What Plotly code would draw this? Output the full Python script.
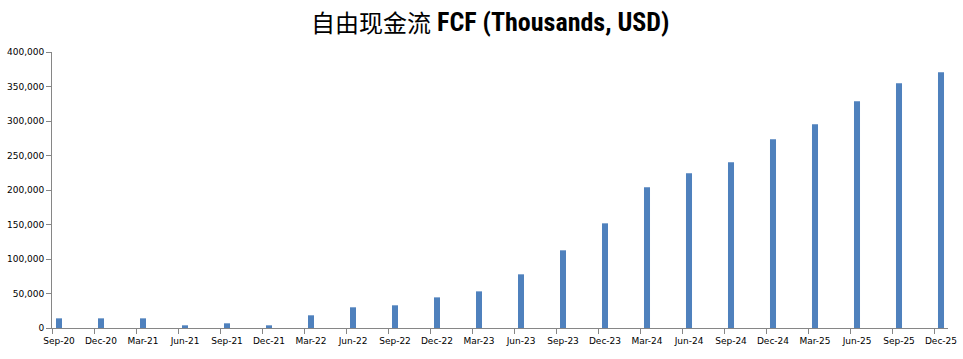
import plotly.graph_objects as go

categories = ["Sep-20", "Dec-20", "Mar-21", "Jun-21", "Sep-21", "Dec-21", "Mar-22", "Jun-22",
              "Sep-22", "Dec-22", "Mar-23", "Jun-23", "Sep-23", "Dec-23", "Mar-24", "Jun-24",
              "Sep-24", "Dec-24", "Mar-25", "Jun-25", "Sep-25", "Dec-25"]
fcf = [14000, 14000, 14000, 3900, 6800, 3900, 18400, 30000,
       32900, 44400, 53100, 77800, 112600, 151700, 203900, 224200,
       240100, 273400, 295200, 328500, 354600, 370500]
y_ticks = [0, 50000, 100000, 150000, 200000, 250000, 300000, 350000, 400000]
title_cn = "自由现金流"
title_en = "FCF (Thousands, USD)"

# quarterly points on a monthly date axis (Excel-style)
month_pos = [3 * i for i in range(len(categories))]

fig = go.Figure(go.Bar(
    x=month_pos, y=fcf, width=0.43,
    marker=dict(color="#4F81BD", line=dict(width=0)),
))

W, H = 963, 359
ML, MR, MT, MB = 52, 15, 52, 31
pw, ph = W - ML - MR, H - MT - MB


def px_x(x):
    return (x - ML) / pw


def px_y(y):
    return (H - MB - y) / ph


fig.update_layout(
    width=W, height=H,
    margin=dict(l=ML, r=MR, t=MT, b=MB),
    paper_bgcolor="white", plot_bgcolor="white",
    showlegend=False,
    font=dict(family="DejaVu Sans", size=9, color="black"),
    annotations=[
        dict(text=title_cn, xref="paper", yref="paper", x=px_x(433), y=px_y(21.5),
             xanchor="right", yanchor="middle", showarrow=False,
             font=dict(family="Noto Sans CJK SC", size=24, color="black")),
        dict(text=f"<b>{title_en}</b>", xref="paper", yref="paper", x=px_x(435), y=px_y(21.5),
             xanchor="left", yanchor="middle", showarrow=False,
             font=dict(family="Liberation Sans Narrow, Roboto Condensed, Noto Sans CJK SC",
                       size=26, color="black")),
    ],
)
fig.update_xaxes(
    range=[-0.5, month_pos[-1] + 0.5], automargin=False,
    tickmode="array", tickvals=month_pos, ticktext=categories,
    ticks="", showgrid=False, zeroline=False,
    showline=True, linecolor="#868686", linewidth=1,
    minor=dict(tickmode="linear", tick0=-0.5, dtick=3, ticks="outside",
               ticklen=5, tickcolor="#868686", showgrid=False),
    ticklabelstandoff=4,
)
fig.update_yaxes(
    range=[0, 400000], automargin=False, tickmode="array", tickvals=y_ticks,
    ticktext=[f"{v:,}" for v in y_ticks],
    ticks="outside", ticklen=5, tickcolor="#868686",
    showgrid=False, zeroline=False,
    showline=True, linecolor="#868686", linewidth=1,
)

fig.write_html("out.html", config={"displayModeBar": False},
               post_script="document.body.style.margin='0px';")
